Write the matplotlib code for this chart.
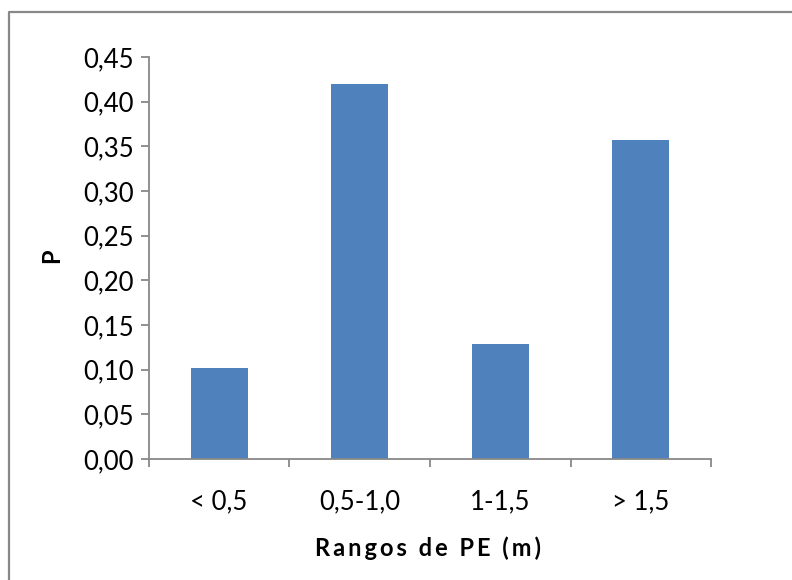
import matplotlib
matplotlib.use('Agg')
import matplotlib.pyplot as plt
from matplotlib.lines import Line2D
from matplotlib.ticker import MultipleLocator, FuncFormatter

categorias = ['< 0,5', '0,5-1,0', '1-1,5', '> 1,5']
valores = [0.102, 0.420, 0.129, 0.357]

plt.rcParams['font.family'] = ['Lato', 'DejaVu Sans']

fig = plt.figure(figsize=(7.92, 5.80), dpi=100)
ax = fig.add_axes([0.188, 0.2086, 0.710, 0.6931])

x = range(len(categorias))
ax.bar(x, valores, width=0.405, color='#4F81BD', zorder=2)

ax.set_xlim(-0.5, len(categorias) - 0.5)
ax.set_ylim(0, 0.45)
ax.yaxis.set_major_locator(MultipleLocator(0.05))
ax.yaxis.set_major_formatter(FuncFormatter(lambda v, p: f'{v:.2f}'.replace('.', ',')))

ax.set_xticks([i - 0.5 for i in range(len(categorias) + 1)])
ax.set_xticklabels([])
ax.set_xticks(list(x), minor=True)
ax.set_xticklabels(categorias, minor=True)
ax.tick_params(axis='x', which='minor', length=0, pad=22, labelsize=18.5)
ax.tick_params(axis='x', which='major', length=6, color='#888888', width=1.3)
ax.tick_params(axis='y', length=6, color='#888888', width=1.3, labelsize=18.5, pad=5)

for s in ['top', 'right']:
    ax.spines[s].set_visible(False)
for s in ['left', 'bottom']:
    ax.spines[s].set_color('#888888')
    ax.spines[s].set_linewidth(1.3)

# titulos de ejes
fig.text(52 / 792, 1 - 256 / 580, 'P', rotation=90, fontsize=17, fontweight='bold',
         ha='center', va='center')
etiqueta = '\u2009'.join('Rangos de PE (m)')
fig.text(428 / 792, 1 - 548 / 580, etiqueta, fontsize=17, fontweight='bold',
         ha='center', va='center')

# borde del grafico (solo arriba e izquierda visibles)
fig.add_artist(Line2D([8.5 / 792, 8.5 / 792, 1.0], [0.0, 1 - 12 / 580, 1 - 12 / 580],
                      transform=fig.transFigure, color='#888888', linewidth=1.6))

fig.savefig('out.png', dpi=100)
